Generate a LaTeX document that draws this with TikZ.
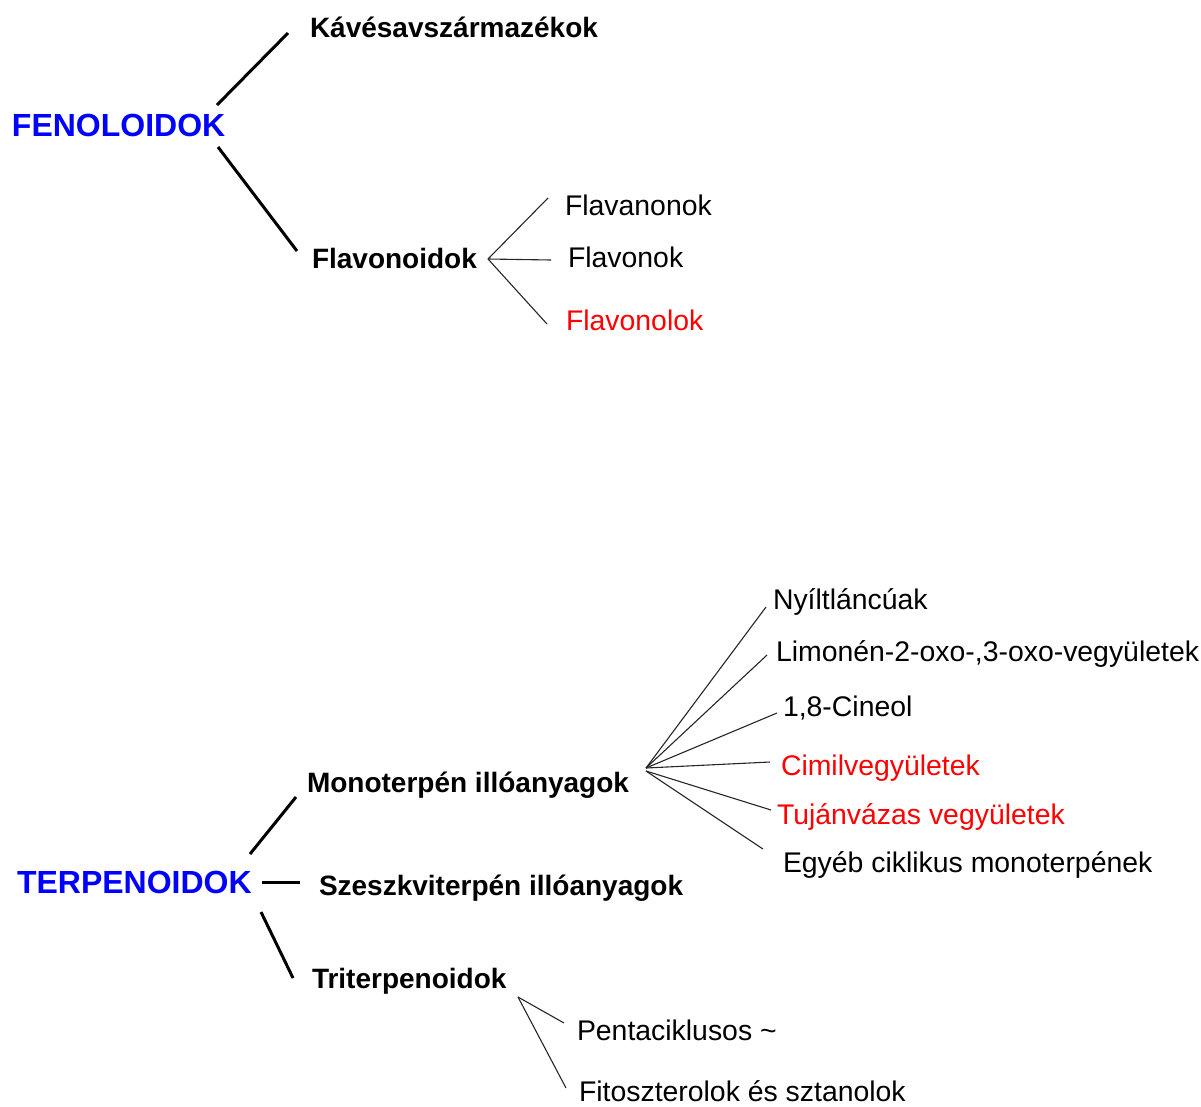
\documentclass[tikz,border=0pt]{standalone}
\usepackage{fontspec}
\setmainfont{Liberation Sans}
\definecolor{topblue}{RGB}{0,0,255}
\definecolor{hired}{RGB}{255,0,0}
\tikzset{
  lbl/.style={anchor=base west, inner sep=0pt, outer sep=0pt, font=\fontsize{28.4}{34}\selectfont},
  lblbold/.style={lbl, font=\fontsize{28}{34}\selectfont\bfseries},
  rootlbl/.style={anchor=base west, inner sep=0pt, outer sep=0pt, text=topblue, font=\fontsize{32}{38}\selectfont\bfseries},
  redlbl/.style={lbl, text=hired},
  thickline/.style={line width=3pt, black},
  thinline/.style={line width=1.1pt, black!85},
}
\begin{document}
\begin{tikzpicture}[x=1pt,y=-1pt]
\useasboundingbox (0,0) rectangle (1201,1106);

% ---------- FENOLOIDOK ----------
\node[rootlbl] (fen) at (12,136) {FENOLOIDOK};
\node[lblbold] (kav) at (310,37) {Kávésavszármazékok};
\node[lblbold] (flav) at (312,268) {Flavonoidok};
\node[lbl] (fnon) at (565,215) {Flavanonok};
\node[lbl] (fon) at (568,267) {Flavonok};
\node[redlbl] (fol) at (566,330) {Flavonolok};

\coordinate (fenA) at (217,105);
\coordinate (kavA) at (288,33);
\coordinate (fenB) at (218,147);
\coordinate (flavA) at (297,251);
\draw[thickline] (fenA) -- (kavA);
\draw[thickline] (fenB) -- (flavA);

\coordinate (flavR) at (488,259);
\coordinate (fnonL) at (548,198);
\coordinate (fonL) at (551,260);
\coordinate (folL) at (547,324);
\draw[thinline] (flavR) -- (fnonL);
\draw[thinline] (flavR) -- (fonL);
\draw[thinline] (flavR) -- (folL);

% ---------- TERPENOIDOK ----------
\node[rootlbl] (ter) at (17,893) {TERPENOIDOK};
\node[lblbold] (mono) at (307,792) {Monoterpén illóanyagok};
\node[lblbold] (sesq) at (319,895) {Szeszkviterpén illóanyagok};
\node[lblbold] (tri) at (312,988) {Triterpenoidok};

\coordinate (terA) at (250,854);
\coordinate (monoA) at (296,797);
\coordinate (terB) at (262,882);
\coordinate (sesqA) at (300,882);
\coordinate (terC) at (261,912);
\coordinate (triA) at (293,978);
\draw[thickline] (terA) -- (monoA);
\draw[thickline] (terB) -- (sesqA);
\draw[thickline] (terC) -- (triA);

\node[lbl] (nyi) at (773,609) {Nyíltláncúak};
\node[lbl] (lim) at (776,661) {Limonén-2-oxo-,3-oxo-vegyületek};
\node[lbl] (cin) at (783,716) {1,8-Cineol};
\node[redlbl] (cim) at (781,775) {Cimilvegyületek};
\node[redlbl] (tuj) at (777,824) {Tujánvázas vegyületek};
\node[lbl] (egy) at (783,872) {Egyéb ciklikus monoterpének};

\coordinate (monoR) at (646,768);
\coordinate (monoR2) at (646,771);
\coordinate (nyiL) at (766,607);
\coordinate (limL) at (767,655);
\coordinate (cinL) at (777,713);
\coordinate (cimL) at (770,762);
\coordinate (tujL) at (771,810);
\coordinate (egyL) at (763,849);
\draw[thinline] (monoR) -- (nyiL);
\draw[thinline] (monoR) -- (limL);
\draw[thinline] (monoR) -- (cinL);
\draw[thinline] (monoR) -- (cimL);
\draw[thinline] (monoR2) -- (tujL);
\draw[thinline] (monoR2) -- (egyL);

\node[lbl] (pen) at (577,1040) {Pentaciklusos \textasciitilde};
\node[lbl] (fit) at (579,1101) {Fitoszterolok és sztanolok};

\coordinate (triR) at (518,997);
\coordinate (penL) at (564,1023);
\coordinate (fitL) at (566,1088);
\draw[thinline] (triR) -- (penL);
\draw[thinline] (triR) -- (fitL);
\end{tikzpicture}
\end{document}
